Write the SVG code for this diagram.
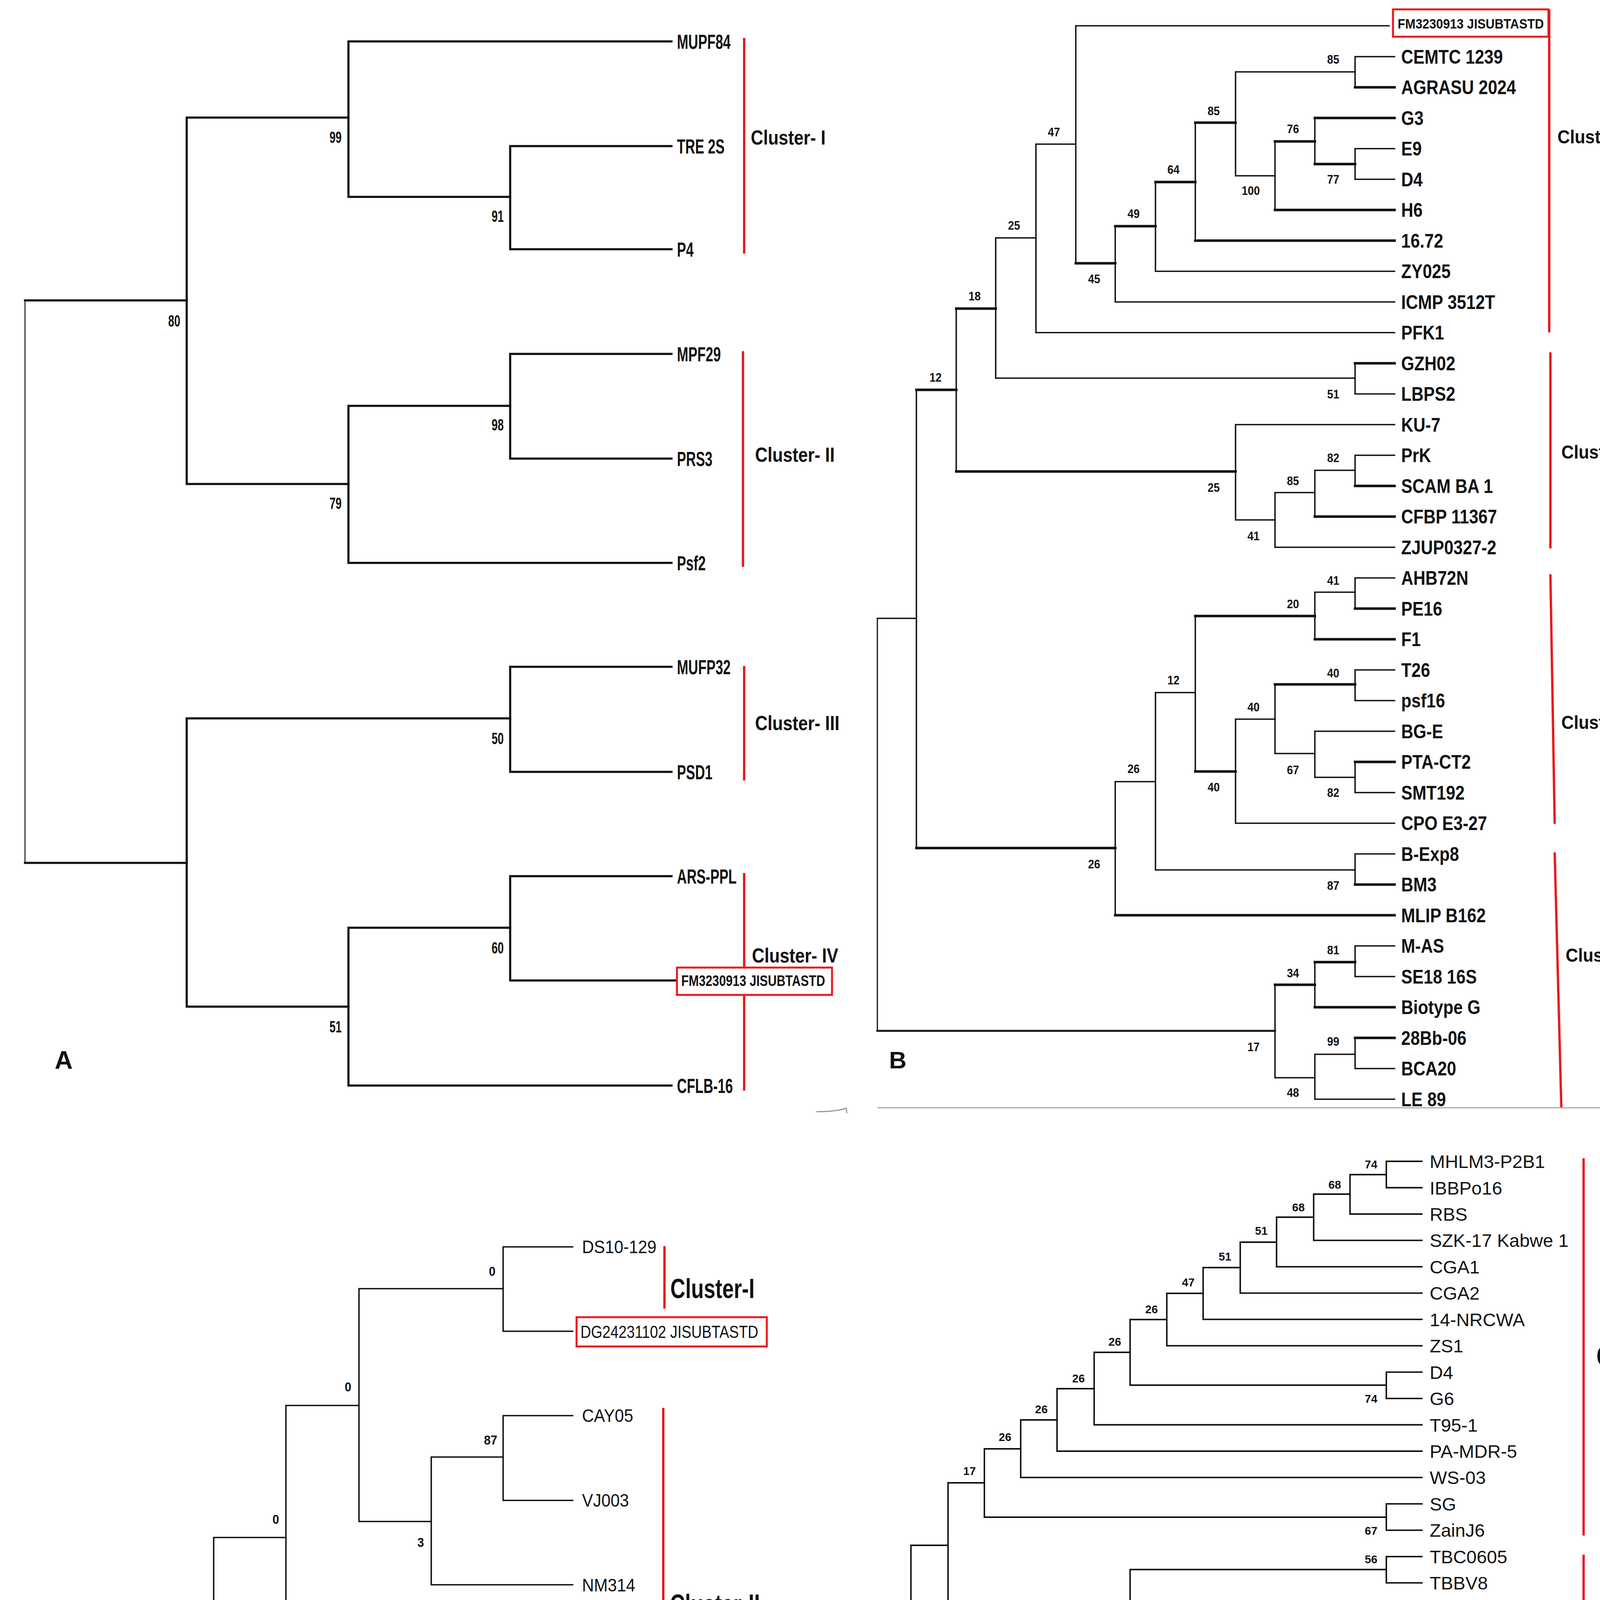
<svg xmlns="http://www.w3.org/2000/svg" width="4381" height="5411" viewBox="0 0 4381 5411">
<style>
text{font-family:"Liberation Sans",Arial,sans-serif;fill:#111}
.br{fill:none;stroke:#111;stroke-linecap:square;stroke-linejoin:miter}
.bA{stroke-width:5.5}.bB{stroke-width:3.6}.bBt{stroke-width:6.5}.bC{stroke-width:3.6}.bD{stroke-width:3.8}
.red{fill:none;stroke:#e8191d;stroke-width:6}
.box{fill:#fff;stroke:#e8191d;stroke-width:5}
.la{font-size:52px;font-weight:bold}
.lb{font-size:50px;font-weight:bold}
.lc{font-size:46px}
.ld{font-size:47px}
.ca{font-size:52px;font-weight:bold}
.cb{font-size:48px;font-weight:bold}
.cc{font-size:70px;font-weight:bold}
.na{font-size:43px;font-weight:bold;text-anchor:middle}
.nb{font-size:31px;font-weight:bold;text-anchor:middle}
.nc{font-size:34px;font-weight:bold;text-anchor:middle}
.nd{font-size:29px;font-weight:bold;text-anchor:middle}
.pl{font-weight:bold}
.gray{fill:none;stroke:#888;stroke-width:2.5}
</style>
<rect width="4381" height="5411" fill="#fff"/>

<!-- ================= PANEL A ================= -->
<g id="panelA">
<g id="connectorsA">
<path class="br" stroke="#777" stroke-width="2.5" fill="none" d="M64,769V2209"/>
<path class="br bA" d="M478,769H64M64,2209H478"/>
<path class="br bA" d="M892,301H478V1239H892"/>
<path class="br bA" d="M1719,106H892V504H1306"/>
<path class="br bA" d="M1719,374H1306V638H1719"/>
<path class="br bA" d="M1306,1039H892V1441H1719"/>
<path class="br bA" d="M1719,906H1306V1174H1719"/>
<path class="br bA" d="M1306,1839H478V2577H892"/>
<path class="br bA" d="M1719,1707H1306V1976H1719"/>
<path class="br bA" d="M1306,2375H892V2779H1719"/>
<path class="br bA" d="M1719,2243H1306V2510H1733"/>
</g>
<g id="bracketsA">
<path class="red" d="M1905,97V649M1902,899V1451M1905,1705V1998M1905,2235V2792"/>
</g>
<g transform="translate(1733,0) scale(0.67,1)">
<g id="A-MUPF84"><text class="la" y="125">MUPF84</text></g>
<g id="A-TRE2S"><text class="la" y="393">TRE 2S</text></g>
<g id="A-P4"><text class="la" y="657">P4</text></g>
<g id="A-MPF29"><text class="la" y="925">MPF29</text></g>
<g id="A-PRS3"><text class="la" y="1193">PRS3</text></g>
<g id="A-Psf2"><text class="la" y="1460">Psf2</text></g>
<g id="A-MUFP32"><text class="la" y="1726">MUFP32</text></g>
<g id="A-PSD1"><text class="la" y="1995">PSD1</text></g>
<g id="A-ARSPPL"><text class="la" y="2262">ARS-PPL</text></g>
<g id="A-CFLB16"><text class="la" y="2798">CFLB-16</text></g>
</g>
<g id="A-FM">
<rect class="box" x="1733" y="2477" width="397" height="70"/>
<text font-size="38" font-weight="bold" transform="translate(1744,2524) scale(0.82,1)">FM3230913 JISUBTASTD</text>
</g>
<g id="A-clusters">
<text class="ca" transform="translate(1922,370) scale(0.85,1)">Cluster- I</text>
<text class="ca" transform="translate(1933,1182) scale(0.85,1)">Cluster- II</text>
<text class="ca" transform="translate(1933,1869) scale(0.85,1)">Cluster- III</text>
<text class="ca" transform="translate(1925,2464) scale(0.85,1)">Cluster- IV</text>
</g>
<g id="A-boot">
<text class="na" transform="translate(859,366) scale(0.65,1)">99</text>
<text class="na" transform="translate(1274,568) scale(0.65,1)">91</text>
<text class="na" transform="translate(446,836) scale(0.65,1)">80</text>
<text class="na" transform="translate(1274,1102) scale(0.65,1)">98</text>
<text class="na" transform="translate(859,1303) scale(0.65,1)">79</text>
<text class="na" transform="translate(1274,1905) scale(0.65,1)">50</text>
<text class="na" transform="translate(1274,2441) scale(0.65,1)">60</text>
<text class="na" transform="translate(859,2643) scale(0.65,1)">51</text>
</g>
<text class="pl" x="140" y="2736" font-size="64">A</text>
<path class="gray" d="M2090,2846Q2140,2846 2166,2837L2168,2850"/>
</g>

<!-- ================= PANEL B ================= -->
<g id="panelB">
<g id="connectorsB">
<path class="br" stroke-width="3" d="M2246,1583V2639"/>
<path class="br bB" d="M3570,145H3469V223.5H3570"/>
<path class="br bB" d="M3570,380.5H3469V459H3570"/>
<path class="br bB" d="M3570,302H3366V420H3469"/>
<path class="br bB" d="M3366,362H3264V537.5H3570"/>
<path class="br bB" d="M3469,184H3163V450H3264"/>
<path class="br bB" d="M3163,314H3060V616H3570"/>
<path class="br bB" d="M3060,466H2958V694.5H3570"/>
<path class="br bB" d="M2958,579H2855V773H3570"/>
<path class="br bB" d="M3556,66H2754V674H2855"/>
<path class="br bB" d="M2754,369H2652V851.5H3570"/>
<path class="br bB" d="M3570,930H3469V1008.5H3570"/>
<path class="br bB" d="M2652,609H2549V968H3469"/>
<path class="br bB" d="M3570,1165.5H3469V1244H3570"/>
<path class="br bB" d="M3469,1204H3366V1322.5H3570"/>
<path class="br bB" d="M3366,1261H3264V1401H3570"/>
<path class="br bB" d="M3570,1087H3163V1331H3264"/>
<path class="br bB" d="M2549,790H2448V1207H3163"/>
<path class="br bB" d="M3570,1479.5H3469V1558H3570"/>
<path class="br bB" d="M3469,1516H3366V1636.5H3570"/>
<path class="br bB" d="M3570,1715H3469V1793.5H3570"/>
<path class="br bB" d="M3570,1950.5H3469V2029H3570"/>
<path class="br bB" d="M3570,1872H3366V1990H3469"/>
<path class="br bB" d="M3469,1752H3264V1929H3366"/>
<path class="br bB" d="M3264,1841H3163V2107.5H3570"/>
<path class="br bB" d="M3366,1577H3060V1975H3163"/>
<path class="br bB" d="M3570,2186H3469V2264.5H3570"/>
<path class="br bB" d="M3060,1773H2958V2227H3469"/>
<path class="br bB" d="M2958,2001H2855V2343H3570"/>
<path class="br bB" d="M2448,998H2346V2171H2855"/>
<path class="br bB" d="M3570,2421.5H3469V2500H3570"/>
<path class="br bB" d="M3469,2463H3366V2578.5H3570"/>
<path class="br bB" d="M3570,2657H3469V2735.5H3570"/>
<path class="br bB" d="M3469,2699H3366V2814H3570"/>
<path class="br bB" d="M3366,2521H3264V2759H3366"/>
<path class="br bB" d="M2346,1583H2246"/>
<path class="br" stroke-width="5" d="M2246,2639H3264"/>
<path class="br bBt" d="M3060,314H3163M3264,362H3366M3366,420H3469M2958,466H3060M2855,579H2958M2754,674H2855M2448,790H2549M3469,223.5H3570M3366,302H3570M3264,537.5H3570M3060,616H3570M3469,930H3570M2346,998H2448M2448,1207H3163M3469,1244H3570M3366,1322.5H3570M3469,1558H3570M3060,1577H3366M3366,1636.5H3570M3264,1752H3469M2346,2171H2855M3060,1975H3163M2855,2343H3570M3469,1950.5H3570M3469,2264.5H3570M3366,2463H3469M3264,2521H3366M3366,2578.5H3570M3469,2657H3570"/>
</g>
<g id="bracketsB">
<path class="red" d="M3966,24V851M3969,902V1404M3969,1470L3980,2109M3980,2182L3997,2836"/>
</g>
<g transform="translate(3587,0) scale(0.86,1)">
<g id="B-CEMTC"><text class="lb" y="163">CEMTC 1239</text></g>
<g id="B-AGRASU"><text class="lb" y="241.5">AGRASU 2024</text></g>
<g id="B-G3"><text class="lb" y="320">G3</text></g>
<g id="B-E9"><text class="lb" y="398.5">E9</text></g>
<g id="B-D4"><text class="lb" y="477">D4</text></g>
<g id="B-H6"><text class="lb" y="555.5">H6</text></g>
<g id="B-1672"><text class="lb" y="634">16.72</text></g>
<g id="B-ZY025"><text class="lb" y="712.5">ZY025</text></g>
<g id="B-ICMP"><text class="lb" y="791">ICMP 3512T</text></g>
<g id="B-PFK1"><text class="lb" y="869.5">PFK1</text></g>
<g id="B-GZH02"><text class="lb" y="948">GZH02</text></g>
<g id="B-LBPS2"><text class="lb" y="1026.5">LBPS2</text></g>
<g id="B-KU7"><text class="lb" y="1105">KU-7</text></g>
<g id="B-PrK"><text class="lb" y="1183.5">PrK</text></g>
<g id="B-SCAM"><text class="lb" y="1262">SCAM BA 1</text></g>
<g id="B-CFBP"><text class="lb" y="1340.5">CFBP 11367</text></g>
<g id="B-ZJUP"><text class="lb" y="1419">ZJUP0327-2</text></g>
<g id="B-AHB72N"><text class="lb" y="1497.5">AHB72N</text></g>
<g id="B-PE16"><text class="lb" y="1576">PE16</text></g>
<g id="B-F1"><text class="lb" y="1654.5">F1</text></g>
<g id="B-T26"><text class="lb" y="1733">T26</text></g>
<g id="B-psf16"><text class="lb" y="1811.5">psf16</text></g>
<g id="B-BGE"><text class="lb" y="1890">BG-E</text></g>
<g id="B-PTA"><text class="lb" y="1968.5">PTA-CT2</text></g>
<g id="B-SMT192"><text class="lb" y="2047">SMT192</text></g>
<g id="B-CPO"><text class="lb" y="2125.5">CPO E3-27</text></g>
<g id="B-BExp8"><text class="lb" y="2204">B-Exp8</text></g>
<g id="B-BM3"><text class="lb" y="2282.5">BM3</text></g>
<g id="B-MLIP"><text class="lb" y="2361">MLIP B162</text></g>
<g id="B-MAS"><text class="lb" y="2439.5">M-AS</text></g>
<g id="B-SE18"><text class="lb" y="2518">SE18 16S</text></g>
<g id="B-Biotype"><text class="lb" y="2596.5">Biotype G</text></g>
<g id="B-28Bb"><text class="lb" y="2675">28Bb-06</text></g>
<g id="B-BCA20"><text class="lb" y="2753.5">BCA20</text></g>
<g id="B-LE89"><text class="lb" y="2832">LE 89</text></g>
</g>
<g id="B-FM">
<rect class="box" x="3566" y="24" width="398" height="70"/>
<text font-size="36" font-weight="bold" transform="translate(3578,73) scale(0.88,1)">FM3230913 JISUBTASTD</text>
</g>
<g id="B-clusters">
<text class="cb" transform="translate(3987,367) scale(0.92,1)">Cluster- I</text>
<text class="cb" transform="translate(3997,1174) scale(0.92,1)">Cluster- II</text>
<text class="cb" transform="translate(3997,1866) scale(0.92,1)">Cluster- III</text>
<text class="cb" transform="translate(4008,2462) scale(0.92,1)">Cluster- IV</text>
</g>
<g id="B-boot">
<text class="nb" transform="translate(2698,349) scale(0.9,1)">47</text>
<text class="nb" transform="translate(2801,725) scale(0.9,1)">45</text>
<text class="nb" transform="translate(2902,558) scale(0.9,1)">49</text>
<text class="nb" transform="translate(3004,445) scale(0.9,1)">64</text>
<text class="nb" transform="translate(3107,295) scale(0.9,1)">85</text>
<text class="nb" transform="translate(3413,163) scale(0.9,1)">85</text>
<text class="nb" transform="translate(3202,499) scale(0.9,1)">100</text>
<text class="nb" transform="translate(3310,341) scale(0.9,1)">76</text>
<text class="nb" transform="translate(3413,470) scale(0.9,1)">77</text>
<text class="nb" transform="translate(2596,588) scale(0.9,1)">25</text>
<text class="nb" transform="translate(2495,769) scale(0.9,1)">18</text>
<text class="nb" transform="translate(3413,1020) scale(0.9,1)">51</text>
<text class="nb" transform="translate(2395,977) scale(0.9,1)">12</text>
<text class="nb" transform="translate(3107,1259) scale(0.9,1)">25</text>
<text class="nb" transform="translate(3209,1383) scale(0.9,1)">41</text>
<text class="nb" transform="translate(3310,1242) scale(0.9,1)">85</text>
<text class="nb" transform="translate(3413,1183) scale(0.9,1)">82</text>
<text class="nb" transform="translate(3413,1497) scale(0.9,1)">41</text>
<text class="nb" transform="translate(3310,1557) scale(0.9,1)">20</text>
<text class="nb" transform="translate(3004,1752) scale(0.9,1)">12</text>
<text class="nb" transform="translate(3413,1734) scale(0.9,1)">40</text>
<text class="nb" transform="translate(3209,1821) scale(0.9,1)">40</text>
<text class="nb" transform="translate(3310,1982) scale(0.9,1)">67</text>
<text class="nb" transform="translate(2902,1979) scale(0.9,1)">26</text>
<text class="nb" transform="translate(3107,2026) scale(0.9,1)">40</text>
<text class="nb" transform="translate(3413,2040) scale(0.9,1)">82</text>
<text class="nb" transform="translate(2801,2223) scale(0.9,1)">26</text>
<text class="nb" transform="translate(3413,2278) scale(0.9,1)">87</text>
<text class="nb" transform="translate(3413,2443) scale(0.9,1)">81</text>
<text class="nb" transform="translate(3310,2502) scale(0.9,1)">34</text>
<text class="nb" transform="translate(3413,2677) scale(0.9,1)">99</text>
<text class="nb" transform="translate(3209,2691) scale(0.9,1)">17</text>
<text class="nb" transform="translate(3310,2808) scale(0.9,1)">48</text>
</g>
<text class="pl" x="2276" y="2735" font-size="62">B</text>
<path fill="none" stroke="#aaa" stroke-width="3" d="M2246,2836H4099"/>
</g>

<!-- ================= PANEL C ================= -->
<g id="panelC">
<g id="connectorsC">
<path class="br bC" d="M1466,3192H1288V3408H1466"/>
<path class="br bC" d="M1466,3624H1288V3841H1466"/>
<path class="br bC" d="M1288,3730H1104V4057H1466"/>
<path class="br bC" d="M1288,3299H919V3895H1104"/>
<path class="br bC" d="M919,3598H732V4273H1466"/>
<path class="br bC" d="M732,3936H547V4489H1466"/>
<path class="br bC" d="M547,4211H362V4705H1466"/>
<path class="br bC" d="M1466,5138H1288V5354H1466"/>
<path class="br bC" d="M1466,4922H1104V5244H1288"/>
<path class="br bC" d="M362,4460H177V5082H1104"/>
</g>
<g id="bracketsC">
<path class="red" d="M1701,3190V3350M1698,3604V4710M1693,4915L1702,5362"/>
</g>
<g transform="translate(1490,0) scale(0.92,1)">
<g id="C-DS10"><text class="lc" y="3208.5">DS10-129</text></g>
<g id="C-CAY05"><text class="lc" y="3640.5">CAY05</text></g>
<g id="C-VJ003"><text class="lc" y="3857.5">VJ003</text></g>
<g id="C-NM314"><text class="lc" y="4073.5">NM314</text></g>
<g id="C-MUPF78"><text class="lc" y="4289.5">MUPF78</text></g>
<g id="C-TB11"><text class="lc" y="4505.5">TB11</text></g>
<g id="C-P17"><text class="lc" y="4721.5">P-17</text></g>
<g id="C-ARB03"><text class="lc" y="4938.5">ARB03</text></g>
<g id="C-BG1"><text class="lc" y="5154.5">BG 1</text></g>
<g id="C-JC876"><text class="lc" y="5370.5">JC876</text></g>
</g>
<g id="C-DG">
<rect class="box" x="1476" y="3372" width="487" height="75"/>
<text font-size="45" transform="translate(1486,3425) scale(0.83,1)">DG24231102 JISUBTASTD</text>
</g>
<g id="C-clusters">
<text class="cc" transform="translate(1716,3323) scale(0.76,1)">Cluster-I</text>
<text class="cc" transform="translate(1715,4131) scale(0.76,1)">Cluster-II</text>
<text class="cc" transform="translate(1715,5193) scale(0.76,1)">Cluster-III</text>
</g>
<g id="C-boot">
<text class="nc" transform="translate(1260,3266) scale(0.9,1)">0</text>
<text class="nc" transform="translate(891,3562) scale(0.9,1)">0</text>
<text class="nc" transform="translate(1256,3698) scale(0.9,1)">87</text>
<text class="nc" transform="translate(1077,3960) scale(0.9,1)">3</text>
<text class="nc" transform="translate(706,3901) scale(0.9,1)">0</text>
<text class="nc" transform="translate(519,4176) scale(0.9,1)">0</text>
<text class="nc" transform="translate(1076,5149) scale(0.9,1)">0</text>
<text class="nc" transform="translate(1260,5312) scale(0.9,1)">0</text>
</g>
<text class="pl" x="231" y="5329" font-size="60">C</text>
</g>

<!-- ================= PANEL D ================= -->
<g id="panelD">
<g id="connectorsD">
<path class="br bD" d="M3640,2973H3549V3040.5H3640"/>
<path class="br bD" d="M3549,3007H3456V3108H3640"/>
<path class="br bD" d="M3456,3057H3363V3175.4H3640"/>
<path class="br bD" d="M3363,3116H3268V3242.8H3640"/>
<path class="br bD" d="M3268,3180H3175V3310.3H3640"/>
<path class="br bD" d="M3175,3245H3080V3377.7H3640"/>
<path class="br bD" d="M3080,3311H2987V3445.2H3640"/>
<path class="br bD" d="M3640,3512.6H3549V3580.1H3640"/>
<path class="br bD" d="M2987,3378H2893V3546H3549"/>
<path class="br bD" d="M2893,3462H2801V3647.5H3640"/>
<path class="br bD" d="M2801,3555H2706V3715H3640"/>
<path class="br bD" d="M2706,3635H2613V3782.4H3640"/>
<path class="br bD" d="M3640,3849.9H3549V3917.3H3640"/>
<path class="br bD" d="M2613,3709H2520V3884H3549"/>
<path class="br bD" d="M3640,3984.8H3549V4052.2H3640"/>
<path class="br bD" d="M3640,4187.1H3549V4254.6H3640"/>
<path class="br bD" d="M3640,4456.9H3549V4524.4H3640"/>
<path class="br bD" d="M3640,4659.3H3549V4726.7H3640"/>
<path class="br bD" d="M3640,4591.8H3456V4693H3549"/>
<path class="br bD" d="M3549,4491H3363V4642H3456"/>
<path class="br bD" d="M3640,4389.5H3268V4566H3363"/>
<path class="br bD" d="M3640,4322H3175V4478H3268"/>
<path class="br bD" d="M3549,4221H3080V4400H3175"/>
<path class="br bD" d="M3640,4119.7H2987V4310H3080"/>
<path class="br bD" d="M3549,4018H2893V4215H2987"/>
<path class="br bD" d="M2520,3796H2427V4116H2893"/>
<path class="br bD" d="M3640,4794.2H3549V4861.6H3640"/>
<path class="br bD" d="M3549,4828H3456V4929.1H3640"/>
<path class="br bD" d="M3640,5266.3H3549V5333.8H3640"/>
<path class="br bD" d="M3640,5198.9H3456V5300H3549"/>
<path class="br bD" d="M3640,5131.4H3363V5249H3456"/>
<path class="br bD" d="M3640,5064H3268V5190H3363"/>
<path class="br bD" d="M3640,4996.5H3175V5127H3268"/>
<path class="br bD" d="M3456,4878H3080V5062H3175"/>
<path class="br bD" d="M2427,3956H2332V4970H3080"/>
</g>
<g id="bracketsD">
<path class="red" d="M4054,2965V3931M4054,3980V4268M4054,4377V4772M4050,4833V5330"/>
</g>
<g transform="translate(3660,0)">
<g id="D-MHLM3"><text class="ld" y="2990">MHLM3-P2B1</text></g>
<g id="D-IBBPo16"><text class="ld" y="3057.5">IBBPo16</text></g>
<g id="D-RBS"><text class="ld" y="3125">RBS</text></g>
<g id="D-SZK17"><text class="ld" y="3192.4">SZK-17 Kabwe 1</text></g>
<g id="D-CGA1"><text class="ld" y="3259.8">CGA1</text></g>
<g id="D-CGA2"><text class="ld" y="3327.3">CGA2</text></g>
<g id="D-14NRCWA"><text class="ld" y="3394.7">14-NRCWA</text></g>
<g id="D-ZS1"><text class="ld" y="3462.2">ZS1</text></g>
<g id="D-D4"><text class="ld" y="3529.6">D4</text></g>
<g id="D-G6"><text class="ld" y="3597.1">G6</text></g>
<g id="D-T951"><text class="ld" y="3664.5">T95-1</text></g>
<g id="D-PAMDR5"><text class="ld" y="3732">PA-MDR-5</text></g>
<g id="D-WS03"><text class="ld" y="3799.4">WS-03</text></g>
<g id="D-SG"><text class="ld" y="3866.9">SG</text></g>
<g id="D-ZainJ6"><text class="ld" y="3934.3">ZainJ6</text></g>
<g id="D-TBC0605"><text class="ld" y="4001.8">TBC0605</text></g>
<g id="D-TBBV8"><text class="ld" y="4069.2">TBBV8</text></g>
<g id="D-E233"><text class="ld" y="4136.7">E233</text></g>
<g id="D-CHK"><text class="ld" y="4204.1">CHK</text></g>
<g id="D-TK03"><text class="ld" y="4271.6">TK-03</text></g>
<g id="D-VK30"><text class="ld" y="4406.5">VK30</text></g>
<g id="D-18"><text class="ld" y="4473.9">18</text></g>
<g id="D-Dokkala"><text class="ld" y="4541.4">Dokkala</text></g>
<g id="D-40045"><text class="ld" y="4608.8">40045</text></g>
<g id="D-pabs5"><text class="ld" y="4676.3">pabs5</text></g>
<g id="D-AL98"><text class="ld" y="4743.7">AL98</text></g>
<g id="D-F4"><text class="ld" y="4811.2">F4</text></g>
<g id="D-KZFS4"><text class="ld" y="4878.6">KZFS4</text></g>
<g id="D-PA01"><text class="ld" y="4946.1">PA01</text></g>
<g id="D-21SG"><text class="ld" y="5013.5">21SG</text></g>
<g id="D-LA15NWUD"><text class="ld" y="5081">LA15NWUD</text></g>
<g id="D-MaAy"><text class="ld" y="5148.4">MaAy-IRAQ-3</text></g>
<g id="D-B"><text class="ld" y="5215.9">B</text></g>
<g id="D-11A"><text class="ld" y="5283.3">11A</text></g>
<g id="D-HXN400"><text class="ld" y="5350.8">HXN-400</text></g>
</g>
<g id="D-DG">
<rect class="box" x="3667" y="4287" width="487" height="75"/>
<text font-size="44" transform="translate(3680,4340) scale(0.86,1)">DG24231102 JISUBTASTD</text>
</g>
<g id="D-clusters">
<text class="cc" font-size="68" transform="translate(4087,3496) scale(0.78,1)">Cluster-I</text>
<text class="cc" font-size="68" transform="translate(4075,4271) scale(0.78,1)">Cluster-II</text>
<text class="cc" font-size="68" transform="translate(4071,5121) scale(0.78,1)">Cluster-III</text>
</g>
<g id="D-boot">
<text class="nd" x="3510" y="2991">74</text>
<text class="nd" x="3417" y="3043">68</text>
<text class="nd" x="3324" y="3101">68</text>
<text class="nd" x="3229" y="3161">51</text>
<text class="nd" x="3136" y="3227">51</text>
<text class="nd" x="3042" y="3293">47</text>
<text class="nd" x="2948" y="3362">26</text>
<text class="nd" x="3510" y="3591">74</text>
<text class="nd" x="2854" y="3445">26</text>
<text class="nd" x="2761" y="3539">26</text>
<text class="nd" x="2666" y="3618">26</text>
<text class="nd" x="2573" y="3689">26</text>
<text class="nd" x="3510" y="3929">67</text>
<text class="nd" x="2482" y="3776">17</text>
<text class="nd" x="3510" y="4002">56</text>
<text class="nd" x="2854" y="4161">10</text>
<text class="nd" x="2948" y="4258">21</text>
<text class="nd" x="3510" y="4204">41</text>
<text class="nd" x="3042" y="4353">19</text>
<text class="nd" x="3136" y="4443">53</text>
<text class="nd" x="3229" y="4521">54</text>
<text class="nd" x="3510" y="4473">71</text>
<text class="nd" x="3324" y="4612">54</text>
<text class="nd" x="3417" y="4687">79</text>
<text class="nd" x="3510" y="4737">88</text>
<text class="nd" x="3510" y="4810">69</text>
<text class="nd" x="3417" y="4861">27</text>
<text class="nd" x="3042" y="5013">20</text>
<text class="nd" x="3136" y="5105">12</text>
<text class="nd" x="3229" y="5170">34</text>
<text class="nd" x="3324" y="5235">74</text>
<text class="nd" x="3417" y="5293">98</text>
<text class="nd" x="3507" y="5344">100</text>
</g>
<text class="pl" x="2392" y="5330" font-size="60">D</text>
<path class="gray" d="M4099,2953Q4180,2950 4203,2958L4204,2966"/>
</g>
</svg>
